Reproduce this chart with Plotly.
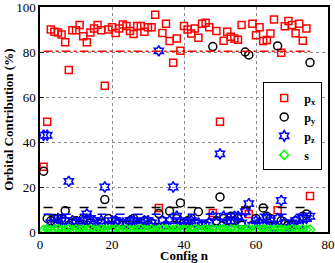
import plotly.graph_objects as go

config_n = list(range(1, 76))

px = [29, 49, 90, 89, 88.7, 87.8, 84.3, 72, 89.7, 89.7,
      92, 87, 84.3, 88.7, 90.4, 92, 89.7, 65, 90, 91,
      88.5, 90.4, 92.2, 91.6, 89.3, 88, 91.6, 91.6, 89, 91,
      91, 96.6, 10.7, 88.5, 92.6, 84.9, 75.2, 86, 80.6, 91.6,
      90, 88.2, 90.4, 86.3, 92.6, 93, 91, 8.5, 89.3, 49,
      85, 89, 86.8, 86, 85.5, 92, 9.7, 8, 92.6, 87.5,
      91, 84.9, 85.3, 88.2, 94.4, 9.7, 79.7, 91.5, 93.8, 92,
      88.3, 92.6, 85, 90.4, 16]

py = [27, 6, 5, 6, 4, 6, 9.4, 3, 4, 5,
      3, 6, 5, 4, 3, 2.5, 4, 14.4, 6, 3,
      5, 4, 3, 3, 5, 6, 3, 4, 5, 3,
      4, 2, 8.2, 5, 3, 9.3, 3, 6, 12.9, 4,
      5, 6, 4, 9, 3, 3, 4, 82.4, 5, 15.6,
      6, 5, 7, 5, 6, 3, 80, 78.7, 3, 6,
      4, 10.7, 7, 6, 2.5, 82.7, 5, 4, 3, 3,
      5, 3, 7, 8, 75.3]

pz = [43, 43, 4, 4, 6, 5, 5, 22.5, 5, 4,
      4, 5, 8, 6, 5, 4, 5, 20, 3, 5,
      5, 4, 4, 4, 5, 5, 4, 3, 5, 5,
      4, 1, 80.5, 5, 3, 5, 20, 7, 5, 3,
      4, 5, 4, 4, 3, 3, 4, 7, 4, 34.7,
      7, 4, 5, 7, 7, 4, 9, 12.6, 3, 5,
      4, 3, 6, 5, 2, 6, 14, 4, 2, 4,
      5, 3, 6, 6, 7]

s = [1.0, 1.2, 0.8, 1.1, 1.3, 0.9, 1.0, 1.4, 0.8, 1.2,
     1.0, 1.1, 0.9, 1.3, 1.0, 0.8, 1.2, 1.0, 0.9, 1.1,
     1.3, 1.0, 0.8, 1.2, 1.0, 0.9, 1.1, 1.4, 1.0, 0.8,
     1.2, 0.7, 1.0, 1.3, 0.9, 1.1, 1.0, 1.2, 0.8, 1.0,
     1.1, 0.9, 1.3, 1.0, 0.8, 1.2, 1.0, 1.1, 0.9, 1.0,
     1.3, 0.8, 1.2, 1.0, 1.1, 0.9, 1.0, 1.2, 0.8, 1.1,
     1.0, 1.3, 0.9, 1.0, 0.8, 1.2, 1.1, 1.0, 0.9, 1.3,
     1.0, 0.8, 1.2, 1.0, 1.1]

avg_px, avg_py, avg_pz, avg_s = 80.3, 10.9, 7.9, 1.0
line_x = [1, 75]

xticks = [0, 20, 40, 60, 80]
yticks = [0, 20, 40, 60, 80, 100]

FONT = "Liberation Serif"

fig = go.Figure()
fig.add_trace(go.Scatter(x=config_n, y=px, mode="markers", name="<b>p<sub>x</sub></b>",
                         marker=dict(symbol="square-open", size=7, color="#ff0000", line=dict(width=1.5))))
fig.add_trace(go.Scatter(x=config_n, y=py, mode="markers", name="<b>p<sub>y</sub></b>",
                         marker=dict(symbol="circle-open", size=8, color="#000000", line=dict(width=1.5))))
fig.add_trace(go.Scatter(x=config_n, y=pz, mode="markers", name="<b>p<sub>z</sub></b>",
                         marker=dict(symbol="hexagram-open", size=8, color="#0000ff", line=dict(width=1.5))))
fig.add_trace(go.Scatter(x=config_n, y=s, mode="markers", name="<b>s</b>",
                         marker=dict(symbol="diamond-open", size=7, color="#00ff00", line=dict(width=1.5))))

fig.add_trace(go.Scatter(x=line_x, y=[avg_px] * 2, mode="lines", showlegend=False,
                         line=dict(color="#ff0000", width=1.5, dash="dashdot")))
fig.add_trace(go.Scatter(x=line_x, y=[avg_py] * 2, mode="lines", showlegend=False,
                         line=dict(color="#000000", width=1.5, dash="dash")))
fig.add_trace(go.Scatter(x=line_x, y=[avg_pz] * 2, mode="lines", showlegend=False,
                         line=dict(color="#0000ff", width=1.5, dash="dash")))
fig.add_trace(go.Scatter(x=line_x, y=[avg_s] * 2, mode="lines", showlegend=False,
                         line=dict(color="#00ff00", width=1.5, dash="dash")))

axis_common = dict(showline=True, linecolor="black", linewidth=1.5, mirror=True,
                   ticks="inside", ticklen=4, tickcolor="black",
                   showgrid=True, gridcolor="#888888", griddash="dot", gridwidth=1,
                   zeroline=False, automargin=False, ticklabeloverflow="allow",
                   tickfont=dict(family=FONT, size=13, color="black"))

fig.update_layout(
    width=335, height=263,
    margin=dict(l=40, r=7, t=7, b=31, autoexpand=False),
    paper_bgcolor="white", plot_bgcolor="white",
    font=dict(family=FONT, color="black"),
    xaxis=dict(range=[0, 80], tickvals=xticks, ticktext=[str(v) for v in xticks],
               **axis_common),
    yaxis=dict(range=[0, 100], tickvals=yticks, ticktext=[str(v) for v in yticks],
               **axis_common),
    legend=dict(x=0.775, y=0.665, xanchor="left", yanchor="top",
                bgcolor="white", bordercolor="black", borderwidth=1,
                font=dict(family=FONT, size=12), tracegroupgap=0, itemwidth=30),
    annotations=[
        dict(text="<b>Config n</b>", xref="paper", yref="paper", x=0.5, y=0, yshift=-23,
             xanchor="center", yanchor="middle", showarrow=False,
             font=dict(family=FONT, size=13)),
        dict(text="<b>Orbital Contribution (%)</b>", xref="paper", yref="paper",
             x=-0.11, y=0.5, xanchor="center", yanchor="middle", textangle=-90,
             showarrow=False, font=dict(family=FONT, size=13)),
    ],
)

fig.write_html("out.html", config={"displayModeBar": False},
               post_script="document.body.style.margin='0';document.body.style.overflow='hidden';")
